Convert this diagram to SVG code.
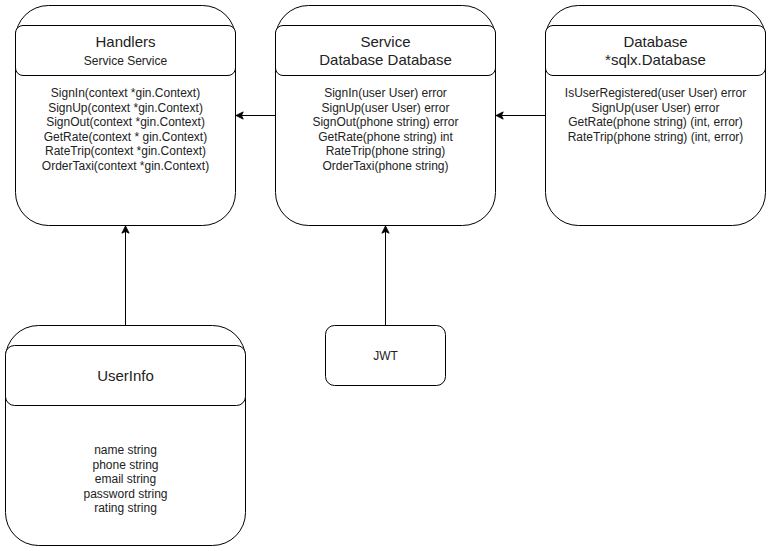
<svg xmlns="http://www.w3.org/2000/svg" width="771" height="551" viewBox="0 0 771 551">
  <defs>
    <style>
      .box { fill: #ffffff; stroke: #000000; stroke-width: 1; }
      .edge { fill: none; stroke: #000000; stroke-width: 1; }
      text { font-family: "Liberation Sans", Arial, sans-serif; fill: #222222; text-anchor: middle; }
      .title { font-size: 15px; }
      .sub { font-size: 12px; }
      .body { font-size: 12px; }
    </style>
    <marker id="arrow" viewBox="0 0 10 10" refX="9" refY="5" markerWidth="9" markerHeight="9" markerUnits="userSpaceOnUse" orient="auto">
      <path d="M1,1 L9,5 L1,9 L3,5 Z" fill="#000000" stroke="#000000" stroke-width="1"/>
    </marker>
  </defs>
  <rect width="771" height="551" fill="#ffffff"/>

  <!-- connectors -->
  <g id="connectors">
    <line class="edge" x1="545.5" y1="115.5" x2="496" y2="115.5" marker-end="url(#arrow)"/>
    <line class="edge" x1="275.5" y1="115.5" x2="236" y2="115.5" marker-end="url(#arrow)"/>
    <line class="edge" x1="125.5" y1="325.5" x2="125.5" y2="226" marker-end="url(#arrow)"/>
    <line class="edge" x1="385.5" y1="325.5" x2="385.5" y2="226" marker-end="url(#arrow)"/>
  </g>

  <!-- Handlers -->
  <g id="handlers">
    <rect class="box" x="15.5" y="5.5" width="220" height="220" rx="33" ry="33"/>
    <rect class="box" x="15.5" y="25.5" width="220" height="50" rx="7.5" ry="7.5"/>
    <text class="title" x="125.5" y="47">Handlers</text>
    <text class="sub" x="125.5" y="65">Service Service</text>
    <text class="body" x="125.5" y="97">SignIn(context *gin.Context)</text>
    <text class="body" x="125.5" y="111.5">SignUp(context *gin.Context)</text>
    <text class="body" x="125.5" y="126">SignOut(context *gin.Context)</text>
    <text class="body" x="125.5" y="140.5">GetRate(context * gin.Context)</text>
    <text class="body" x="125.5" y="155">RateTrip(context *gin.Context)</text>
    <text class="body" x="125.5" y="169.5">OrderTaxi(context *gin.Context)</text>
  </g>

  <!-- Service -->
  <g id="service">
    <rect class="box" x="275.5" y="5.5" width="220" height="220" rx="33" ry="33"/>
    <rect class="box" x="275.5" y="25.5" width="220" height="50" rx="7.5" ry="7.5"/>
    <text class="title" x="385.5" y="47">Service</text>
    <text class="title" x="385.5" y="64.5">Database Database</text>
    <text class="body" x="385.5" y="97">SignIn(user User) error</text>
    <text class="body" x="385.5" y="111.5">SignUp(user User) error</text>
    <text class="body" x="385.5" y="126">SignOut(phone string) error</text>
    <text class="body" x="385.5" y="140.5">GetRate(phone string) int</text>
    <text class="body" x="385.5" y="155">RateTrip(phone string)</text>
    <text class="body" x="385.5" y="169.5">OrderTaxi(phone string)</text>
  </g>

  <!-- Database -->
  <g id="database">
    <rect class="box" x="545.5" y="5.5" width="220" height="220" rx="33" ry="33"/>
    <rect class="box" x="545.5" y="25.5" width="220" height="50" rx="7.5" ry="7.5"/>
    <text class="title" x="655.5" y="47">Database</text>
    <text class="title" x="655.5" y="64.5">*sqlx.Database</text>
    <text class="body" x="655.5" y="97">IsUserRegistered(user User) error</text>
    <text class="body" x="655.5" y="111.5">SignUp(user User) error</text>
    <text class="body" x="655.5" y="126">GetRate(phone string) (int, error)</text>
    <text class="body" x="655.5" y="140.5">RateTrip(phone string) (int, error)</text>
  </g>

  <!-- UserInfo -->
  <g id="userinfo">
    <rect class="box" x="5.5" y="325.5" width="240" height="220" rx="33" ry="33"/>
    <rect class="box" x="5.5" y="345.5" width="240" height="60" rx="9" ry="9"/>
    <text class="title" x="125.5" y="381">UserInfo</text>
    <text class="body" x="125.5" y="454">name string</text>
    <text class="body" x="125.5" y="468.5">phone string</text>
    <text class="body" x="125.5" y="483">email string</text>
    <text class="body" x="125.5" y="497.5">password string</text>
    <text class="body" x="125.5" y="512">rating string</text>
  </g>

  <!-- JWT -->
  <g id="jwt">
    <rect class="box" x="325.5" y="325.5" width="120" height="60" rx="9" ry="9"/>
    <text class="body" x="385.5" y="360">JWT</text>
  </g>
</svg>
